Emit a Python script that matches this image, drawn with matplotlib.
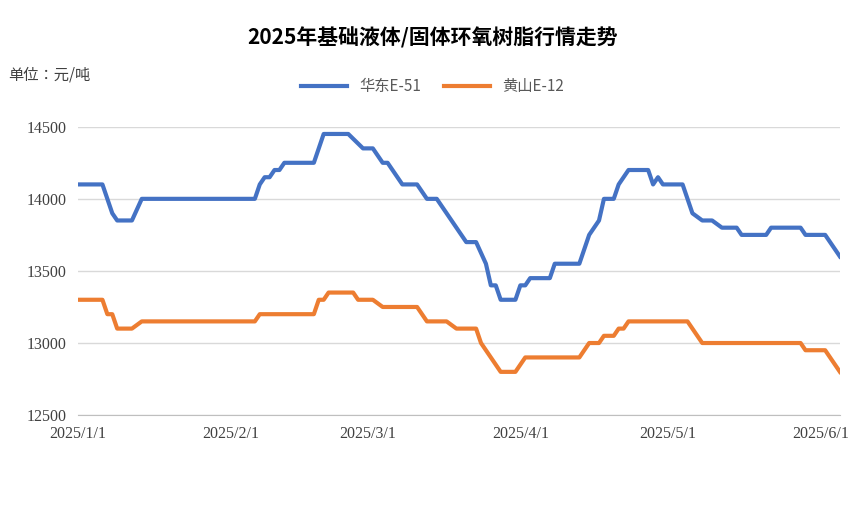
import matplotlib
matplotlib.use("Agg")
import matplotlib.pyplot as plt
import pandas as pd

e51_dates = ["2025-01-01","2025-01-06","2025-01-08","2025-01-09","2025-01-12","2025-01-14","2025-02-06","2025-02-07","2025-02-08","2025-02-09","2025-02-10","2025-02-11","2025-02-12","2025-02-18","2025-02-20","2025-02-25","2025-02-28","2025-03-02","2025-03-04","2025-03-05","2025-03-08","2025-03-11","2025-03-13","2025-03-15","2025-03-17","2025-03-19","2025-03-21","2025-03-23","2025-03-25","2025-03-26","2025-03-27","2025-03-28","2025-03-31","2025-04-01","2025-04-02","2025-04-03","2025-04-07","2025-04-08","2025-04-13","2025-04-15","2025-04-17","2025-04-18","2025-04-20","2025-04-21","2025-04-23","2025-04-27","2025-04-28","2025-04-29","2025-04-30","2025-05-04","2025-05-06","2025-05-08","2025-05-10","2025-05-12","2025-05-15","2025-05-16","2025-05-21","2025-05-22","2025-05-28","2025-05-29","2025-06-02","2025-06-05"]
e51_vals = [14100,14100,13900,13850,13850,14000,14000,14100,14150,14150,14200,14200,14250,14250,14450,14450,14350,14350,14250,14250,14100,14100,14000,14000,13900,13800,13700,13700,13550,13400,13400,13300,13300,13400,13400,13450,13450,13550,13550,13750,13850,14000,14000,14100,14200,14200,14100,14150,14100,14100,13900,13850,13850,13800,13800,13750,13750,13800,13800,13750,13750,13600]

e12_dates = ["2025-01-01","2025-01-06","2025-01-07","2025-01-08","2025-01-09","2025-01-12","2025-01-14","2025-02-06","2025-02-07","2025-02-18","2025-02-19","2025-02-20","2025-02-21","2025-02-26","2025-02-27","2025-03-02","2025-03-04","2025-03-11","2025-03-13","2025-03-17","2025-03-19","2025-03-23","2025-03-24","2025-03-28","2025-03-31","2025-04-02","2025-04-13","2025-04-15","2025-04-17","2025-04-18","2025-04-20","2025-04-21","2025-04-22","2025-04-23","2025-05-05","2025-05-08","2025-05-28","2025-05-29","2025-06-02","2025-06-05"]
e12_vals = [13300,13300,13200,13200,13100,13100,13150,13150,13200,13200,13300,13300,13350,13350,13300,13300,13250,13250,13150,13150,13100,13100,13000,12800,12800,12900,12900,13000,13000,13050,13050,13100,13100,13150,13150,13000,13000,12950,12950,12800]

tick_dates = ["2025-01-01","2025-02-01","2025-03-01","2025-04-01","2025-05-01","2025-06-01"]
tick_labels = ["2025/1/1","2025/2/1","2025/3/1","2025/4/1","2025/5/1","2025/6/1"]

cjk = ["Noto Sans CJK SC", "Noto Sans CJK JP", "Noto Sans CJK TC", "DejaVu Sans"]
serif = "Liberation Serif"

fig = plt.figure(figsize=(8.65, 5.05), dpi=100)
ax = fig.add_axes([0.09, 0.178, 0.881, 0.571])
ax.plot(pd.to_datetime(e51_dates), e51_vals, color="#4472C4", lw=3, label="华东E-51", solid_joinstyle="round")
ax.plot(pd.to_datetime(e12_dates), e12_vals, color="#ED7D31", lw=3, label="黄山E-12", solid_joinstyle="round")
ax.set_ylim(12500, 14500)
ax.set_xlim(pd.Timestamp("2025-01-01"), pd.Timestamp("2025-06-05"))
ax.set_yticks([12500, 13000, 13500, 14000, 14500])
ax.set_xticks(pd.to_datetime(tick_dates))
ax.set_xticklabels(tick_labels, fontfamily=serif, fontsize=11.5)
for t in ax.get_yticklabels():
    t.set_fontfamily(serif); t.set_fontsize(11.5)
ax.grid(axis="y", color="#D9D9D9", lw=1)
ax.set_axisbelow(True)
for s in ["top", "right", "left"]:
    ax.spines[s].set_visible(False)
ax.spines["bottom"].set_color("#BFBFBF")
ax.tick_params(axis="both", length=0, pad=8, colors="#404040")
fig.text(0.5, 0.925, "2025年基础液体/固体环氧树脂行情走势", ha="center", va="center",
         fontfamily=cjk, fontsize=15, fontweight="bold")
fig.text(0.01, 0.852, "单位：元/吨", ha="left", va="center", fontfamily=cjk, fontsize=11, color="#404040")
leg = fig.legend(loc="center", bbox_to_anchor=(0.5, 0.828), ncol=2, frameon=False,
                 prop={"family": cjk, "size": 11}, handlelength=3, columnspacing=1.5)
for t in leg.get_texts():
    t.set_color("#595959")
fig.savefig("out.png", dpi=100)
